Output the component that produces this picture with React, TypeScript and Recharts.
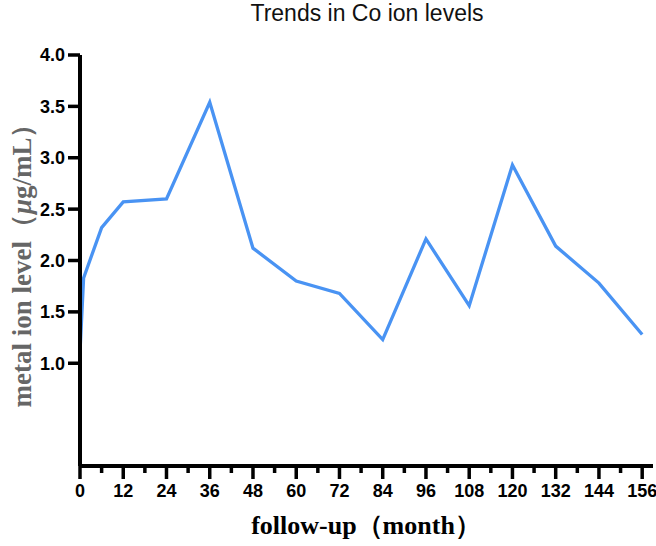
import { LineChart, Line, XAxis, YAxis } from "recharts";

const months = [0, 1, 6, 12, 24, 36, 48, 60, 72, 84, 96, 108, 120, 132, 144, 156];
const coLevels = [1.11, 1.83, 2.32, 2.57, 2.6, 3.54, 2.12, 1.8, 1.68, 1.23, 2.21, 1.56, 2.93, 2.14, 1.78, 1.28];
const xTicks = [0, 6, 12, 18, 24, 30, 36, 42, 48, 54, 60, 66, 72, 78, 84, 90, 96, 102, 108, 114, 120, 126, 132, 138, 144, 150, 156];
const yTicks = [1.0, 1.5, 2.0, 2.5, 3.0, 3.5, 4.0];

const data = months.map((m, i) => ({ month: m, level: coLevels[i] }));

const SANS = "'Liberation Sans', Arial, sans-serif";
const SERIF = "'Liberation Serif', 'Times New Roman', serif";

const MonthTick = (props: any) => {
  const { x, y, payload } = props;
  const major = payload.value % 12 === 0;
  return (
    <g>
      <line x1={x} x2={x} y1={y} y2={y + (major ? 13 : 7)} stroke="#000" strokeWidth={3.5} />
      {major && (
        <text x={x} y={y + 31} textAnchor="middle" fontFamily={SANS} fontWeight="bold" fontSize={18} fill="#000">
          {payload.value}
        </text>
      )}
    </g>
  );
};

const XLabel = () => (
  <text x={366} y={534} textAnchor="middle" fontFamily={SERIF} fontWeight="bold" fontSize={26} fill="#000">
    follow-up（month）
  </text>
);

const YLabel = () => {
  const cx = 22;
  const cy = 259;
  return (
    <text
      x={cx}
      y={cy}
      transform={`rotate(-90 ${cx} ${cy})`}
      textAnchor="middle"
      dominantBaseline="central"
      fontFamily={SERIF}
      fontWeight="bold"
      fontSize={27}
      fill="#666"
    >
      metal ion level（<tspan fontStyle="italic">μ</tspan>g/mL）
    </text>
  );
};

export default function App() {
  return (
    <div style={{ position: "absolute", left: 0, top: 0, width: 656, height: 546, background: "#fff" }}>
      <div
        style={{
          position: "absolute",
          top: 0,
          left: 0,
          width: 734,
          textAlign: "center",
          fontFamily: SANS,
          fontSize: 23,
          color: "#111",
        }}
      >
        Trends in Co ion levels
      </div>
      <LineChart width={656} height={546} data={data} margin={{ top: 55, right: 3, bottom: 0, left: 0 }}>
        <XAxis
          dataKey="month"
          type="number"
          domain={[0, 159]}
          ticks={xTicks}
          interval={0}
          tickLine={false}
          tickSize={0}
          tickMargin={0}
          tick={<MonthTick />}
          axisLine={{ stroke: "#000", strokeWidth: 4 }}
          height={80}
          label={<XLabel />}
        />
        <YAxis
          type="number"
          domain={[0, 4]}
          ticks={yTicks}
          interval={0}
          width={80}
          tickSize={12}
          tickMargin={3}
          tickFormatter={(v: number) => v.toFixed(1)}
          tickLine={{ stroke: "#000", strokeWidth: 3.5 }}
          axisLine={{ stroke: "#000", strokeWidth: 4 }}
          tick={{ fontFamily: SANS, fontWeight: "bold", fontSize: 18, fill: "#000" }}
          label={<YLabel />}
        />
        <Line
          type="linear"
          dataKey="level"
          stroke="#4993f3"
          strokeWidth={3.3}
          dot={false}
          isAnimationActive={false}
        />
      </LineChart>
    </div>
  );
}
